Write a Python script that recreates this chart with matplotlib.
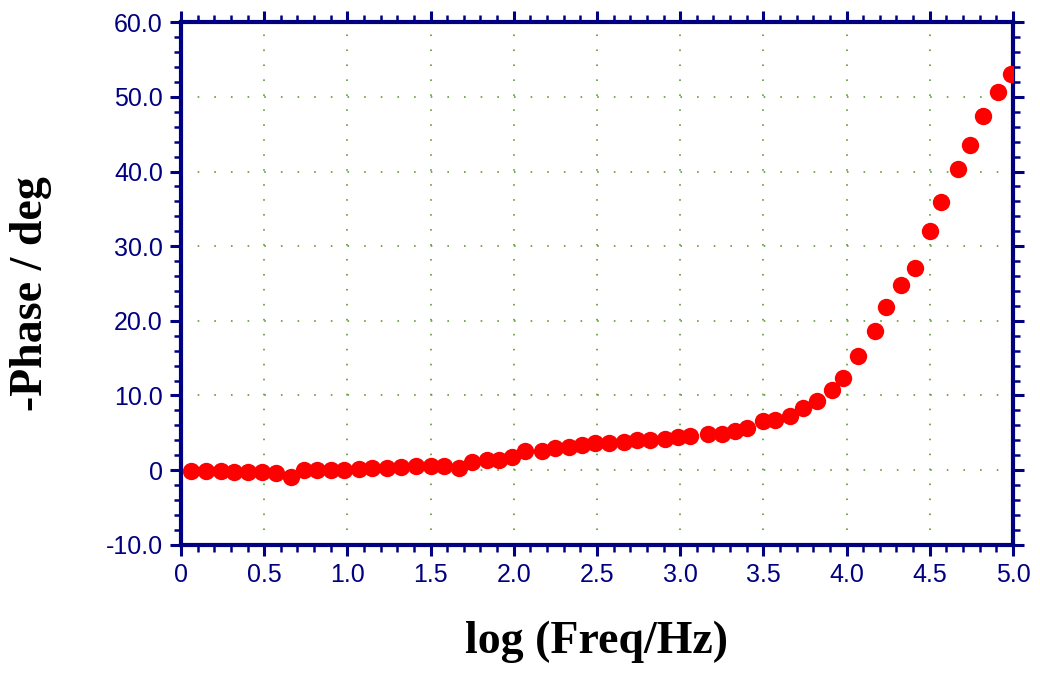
import matplotlib
matplotlib.use("Agg")
import matplotlib.pyplot as plt
from matplotlib.ticker import MultipleLocator, FuncFormatter

# log(f / Hz) and -phase in degrees
log_freq = [0.06, 0.15, 0.24, 0.32, 0.40, 0.49, 0.57, 0.66, 0.74, 0.82,
            0.90, 0.98, 1.07, 1.15, 1.24, 1.32, 1.41, 1.50, 1.58, 1.67,
            1.75, 1.84, 1.91, 1.99, 2.07, 2.17, 2.25, 2.33, 2.41, 2.49,
            2.57, 2.66, 2.74, 2.82, 2.91, 2.99, 3.06, 3.17, 3.25, 3.33,
            3.40, 3.50, 3.57, 3.66, 3.74, 3.82, 3.91, 3.98, 4.07, 4.17,
            4.24, 4.33, 4.41, 4.50, 4.57, 4.67, 4.74, 4.82, 4.91, 4.99]
phase = [-0.1, -0.1, -0.1, -0.2, -0.2, -0.3, -0.4, -0.9, 0.0, 0.0,
         0.0, 0.0, 0.2, 0.3, 0.3, 0.4, 0.5, 0.5, 0.6, 0.3,
         1.1, 1.4, 1.4, 1.8, 2.6, 2.6, 2.9, 3.1, 3.3, 3.6,
         3.6, 3.8, 4.0, 4.0, 4.1, 4.4, 4.6, 4.8, 4.9, 5.2,
         5.7, 6.6, 6.7, 7.3, 8.3, 9.3, 10.7, 12.3, 15.3, 18.6,
         21.9, 24.8, 27.1, 32.1, 35.9, 40.3, 43.5, 47.4, 50.6, 53.1]

navy = "#000080"

fig = plt.figure(figsize=(10.4, 6.75), dpi=100)
ax = fig.add_axes([0.174, 0.193, 0.800, 0.774])

ax.set_xlim(0, 5.0)
ax.set_ylim(-10, 60)

# dotted grid: dots fall on the minor tick positions
ax.grid(axis="y", which="major", color="#6aa340", linewidth=1.3,
        linestyle=(0, (0.9, 8.32)))
ax.grid(axis="x", which="major", color="#6aa340", linewidth=1.3,
        linestyle=(0, (0.9, 7.39)))
ax.set_axisbelow(True)

ax.plot(log_freq, phase, "o", color="#ff0000", markersize=12.5,
        markeredgewidth=0, zorder=3)

for side in ["left", "right", "top", "bottom"]:
    ax.spines[side].set_color(navy)
    ax.spines[side].set_linewidth(3)

ax.xaxis.set_major_locator(MultipleLocator(0.5))
ax.xaxis.set_minor_locator(MultipleLocator(0.1))
ax.yaxis.set_major_locator(MultipleLocator(10))
ax.yaxis.set_minor_locator(MultipleLocator(2))

fmt = FuncFormatter(lambda v, pos: "0" if abs(v) < 1e-9 else f"{v:.1f}")
ax.xaxis.set_major_formatter(fmt)
ax.yaxis.set_major_formatter(fmt)

ax.tick_params(which="both", direction="out", color=navy,
               top=True, right=True, labeltop=False, labelright=False)
ax.tick_params(which="major", length=8, width=2.2, pad=5)
ax.tick_params(which="minor", length=5, width=1.8)
ax.tick_params(labelsize=18, labelcolor=navy)
for lbl in ax.get_xticklabels() + ax.get_yticklabels():
    lbl.set_fontfamily("Liberation Sans")

ax.set_xlabel("log (Freq/Hz)", fontsize=33, fontweight="bold",
              fontfamily="Liberation Serif", labelpad=24)
ax.set_ylabel("-Phase / deg", fontsize=33, fontweight="bold",
              fontfamily="Liberation Serif")
ax.yaxis.set_label_coords(-0.155, 0.48)

fig.savefig("out.png", dpi=100)
